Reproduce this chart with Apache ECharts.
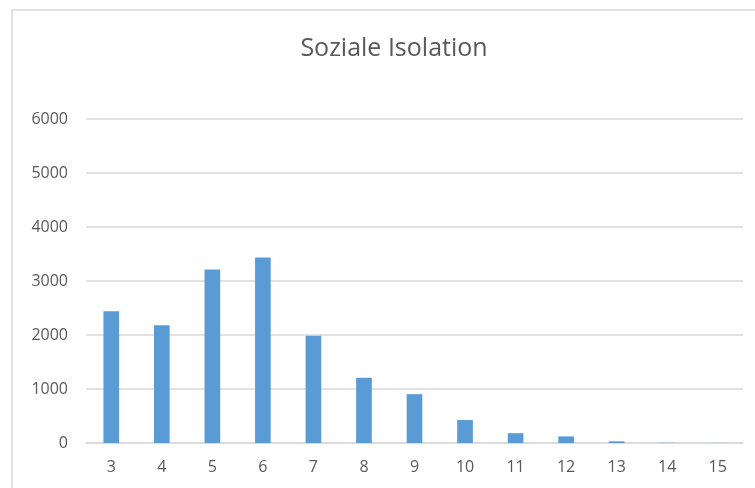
<!DOCTYPE html>
<html>
<head>
<meta charset="utf-8">
<script src="https://cdn.jsdelivr.net/npm/echarts@6/dist/echarts.min.js"></script>
<style>
  html, body { margin: 0; padding: 0; background: #fff; }
  #chart { width: 755px; height: 488px; }
</style>
</head>
<body>
<div id="chart"></div>
<script>
// Werte
const categories = ['3', '4', '5', '6', '7', '8', '9', '10', '11', '12', '13', '14', '15'];
const counts = [2440, 2180, 3215, 3435, 1985, 1210, 905, 425, 182, 122, 32, 4, 2];
const yTicks = [0, 1000, 2000, 3000, 4000, 5000, 6000];

const myChart = echarts.init(document.getElementById('chart'));
const option = {
  backgroundColor: '#fff',
  textStyle: { fontFamily: 'Open Sans' },
  title: {
    text: 'Soziale Isolation',
    left: 389,
    top: 31,
    textAlign: 'center',
    textStyle: { fontSize: 25, fontWeight: 'normal', color: '#595959', fontFamily: 'Open Sans' }
  },
  // Rahmen des Diagrammbereichs
  graphic: [{
    type: 'rect',
    shape: { x: 12, y: 10, width: 760, height: 500 },
    style: { fill: 'none', stroke: '#d9d9d9', lineWidth: 1.5 },
    silent: true
  }],
  grid: { left: 86, right: 12, top: 119, bottom: 45 },
  xAxis: {
    type: 'category',
    data: categories,
    axisLine: { show: true, lineStyle: { color: '#d9d9d9', width: 1.5 } },
    axisTick: { show: false },
    axisLabel: { color: '#595959', fontSize: 16, margin: 16 }
  },
  yAxis: {
    type: 'value',
    min: yTicks[0],
    max: yTicks[yTicks.length - 1],
    interval: 1000,
    axisLine: { show: false },
    axisTick: { show: false },
    axisLabel: { color: '#595959', fontSize: 16, margin: 18, formatter: v => String(v) },
    splitLine: { lineStyle: { color: '#d9d9d9', width: 1.5 } }
  },
  series: [{
    type: 'bar',
    data: counts,
    barWidth: '31%',
    itemStyle: { color: '#5b9bd5' }
  }]
};
myChart.setOption(option);
</script>
</body>
</html>
